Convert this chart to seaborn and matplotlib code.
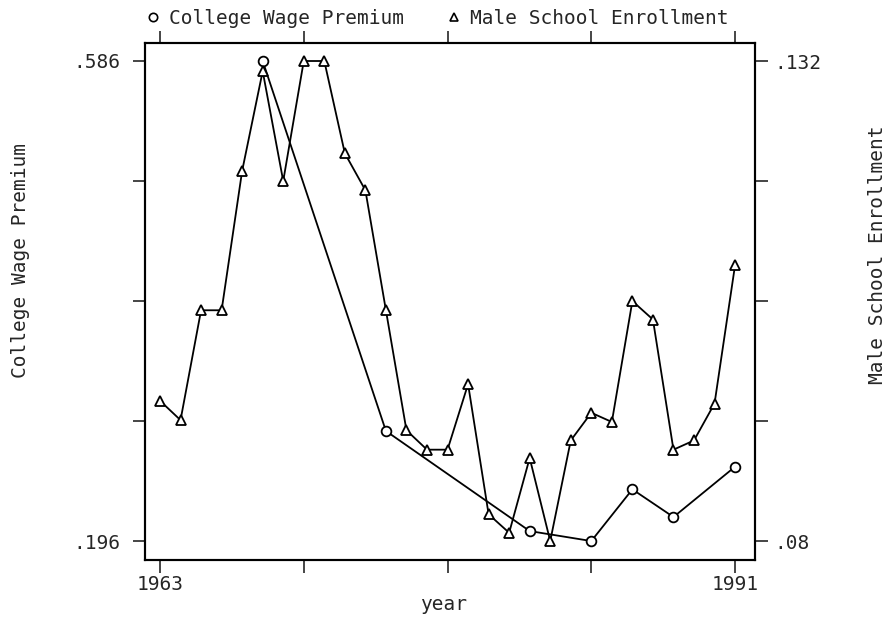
import matplotlib
matplotlib.use("Agg")
import matplotlib.pyplot as plt
from matplotlib.lines import Line2D
import seaborn as sns
import pandas as pd

# ---- data ----
enroll_years = list(range(1963, 1992))
male_school_enrollment = [
    0.0952, 0.0931, 0.1050, 0.1050, 0.1201, 0.1309, 0.1190, 0.1320, 0.1320,
    0.1220, 0.1180, 0.1050, 0.0920, 0.0899, 0.0899, 0.0970, 0.0829, 0.0809,
    0.0890, 0.0800, 0.0909, 0.0939, 0.0929, 0.1060, 0.1040, 0.0899, 0.0909,
    0.0949, 0.1099,
]
premium_years = [1968, 1974, 1981, 1984, 1986, 1988, 1991]
college_wage_premium = [0.586, 0.2854, 0.2041, 0.196, 0.238, 0.2155, 0.2564]

left_ticks = [0.196, 0.2935, 0.391, 0.4885, 0.586]
left_labels = [".196", "", "", "", ".586"]
right_ticks = [0.08, 0.093, 0.106, 0.119, 0.132]
right_labels = [".08", "", "", "", ".132"]
x_ticks = [1963, 1970, 1977, 1984, 1991]
x_labels = ["1963", "", "", "", "1991"]

sns.set_style("white")
plt.rcParams["font.family"] = ["DejaVu Sans Mono", "DejaVu Sans"]
plt.rcParams["font.size"] = 14

fig = plt.figure(figsize=(8.9, 6.19), dpi=100)
ax = fig.add_axes([145 / 890, (619 - 560) / 619, 610 / 890, 517 / 619])
ax2 = ax.twinx()

df_p = pd.DataFrame({"year": premium_years, "val": college_wage_premium})
df_e = pd.DataFrame({"year": enroll_years, "val": male_school_enrollment})

sns.lineplot(data=df_p, x="year", y="val", ax=ax, color="black", linewidth=1.3,
             marker="o", markersize=7, markerfacecolor="white",
             markeredgecolor="black", markeredgewidth=1.3)
sns.lineplot(data=df_e, x="year", y="val", ax=ax2, color="black", linewidth=1.3,
             marker="^", markersize=7, markerfacecolor="white",
             markeredgecolor="black", markeredgewidth=1.3)

ax.set_xlim(1962.27, 1991.97)
ax.set_ylim(0.1806, 0.6006)
ax2.set_ylim(0.07795, 0.13395)

ax.set_xticks(x_ticks)
ax.set_xticklabels(x_labels)
ax.set_yticks(left_ticks)
ax.set_yticklabels(left_labels)
ax2.set_yticks(right_ticks)
ax2.set_yticklabels(right_labels)

ax.tick_params(axis="x", which="both", direction="out", length=9, width=1.2,
               top=True, bottom=True, labeltop=False, pad=2, labelsize=14)
ax.tick_params(axis="y", direction="out", length=9, width=1.2, pad=9, labelsize=14, left=True)
ax2.tick_params(axis="y", direction="out", length=9, width=1.2, pad=5, labelsize=14, right=True)

for a in (ax, ax2):
    for s in a.spines.values():
        s.set_visible(True)
        s.set_color("black")
        s.set_linewidth(1.5)

ax.set_xlabel("year", fontsize=14)
ax.xaxis.set_label_coords(0.489, -0.068)
ax.set_ylabel("College Wage Premium", fontsize=14)
ax.yaxis.set_label_coords(-0.1885, 0.58)
ax2.set_ylabel("Male School Enrollment", fontsize=14, rotation=90)
ax2.yaxis.set_label_coords(1.185, 0.59)

handles = [
    Line2D([], [], linestyle="none", marker="o", markersize=6, markerfacecolor="white",
           markeredgecolor="black", markeredgewidth=1.2),
    Line2D([], [], linestyle="none", marker="^", markersize=6, markerfacecolor="white",
           markeredgecolor="black", markeredgewidth=1.2),
]
fig.legend(handles, ["College Wage Premium", "Male School Enrollment"],
           loc="center", bbox_to_anchor=(437 / 890, 1 - 18 / 619), ncol=2,
           frameon=False, fontsize=14, handlelength=0.8, handletextpad=0.4,
           columnspacing=2.2, borderaxespad=0)

fig.savefig("out.png", dpi=100)
